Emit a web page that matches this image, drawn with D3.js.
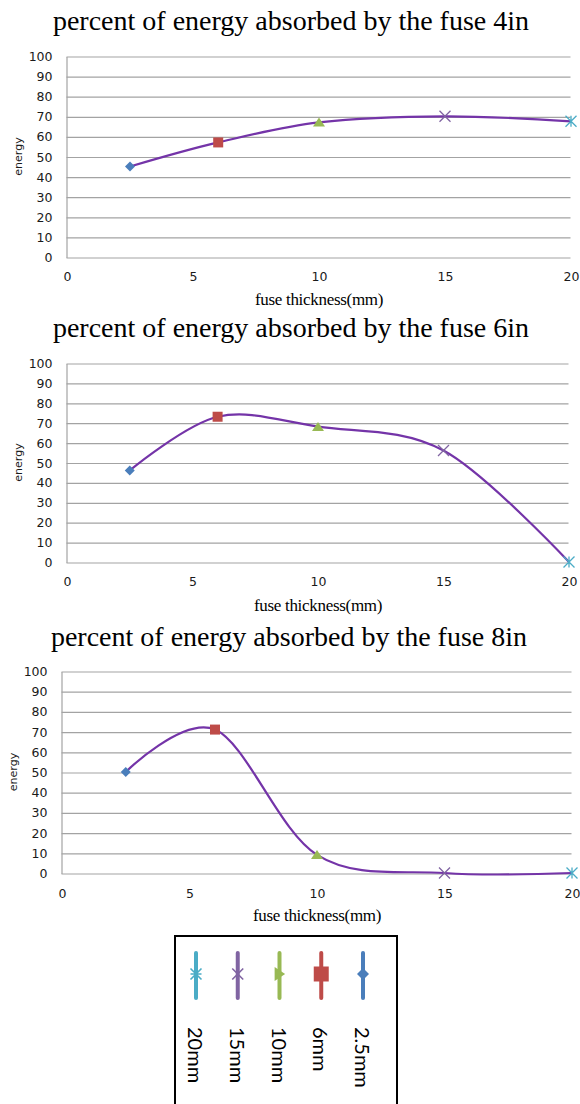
<!DOCTYPE html>
<html>
<head>
<meta charset="utf-8">
<script src="https://cdn.jsdelivr.net/npm/d3@7"></script>
<style>
  html, body { margin: 0; padding: 0; background: #fff; }
  svg { display: block; }
</style>
</head>
<body>
<svg id="chart" width="580" height="1104"></svg>
<script>
// ---------- data ----------
const thickness = [2.5, 6, 10, 15, 20];
const seriesNames = ["2.5mm", "6mm", "10mm", "15mm", "20mm"];
const energy4in = [45, 57, 67, 70, 67.5];
const energy6in = [46, 73, 68, 56, 0];
const energy8in = [50, 71, 9, 0, 0];
const titles = [
  "percent of energy absorbed by the fuse 4in",
  "percent of energy absorbed by the fuse 6in",
  "percent of energy absorbed by the fuse 8in"
];
const xTicks = [0, 5, 10, 15, 20];
const yTicks = [0, 10, 20, 30, 40, 50, 60, 70, 80, 90, 100];
const xAxisTitle = "fuse thickness(mm)";
const yAxisTitle = "energy";

// ---------- styles ----------
const markerColors = ["#4a7ebb", "#be4b48", "#98b954", "#8064a2", "#4bacc6"];
const markerTypes = ["diamond", "square", "triangle", "times", "star"];
const lineColor = "#7434a8";
const gridColor = "#a3a3a3";

const panels = [
  { data: energy4in, title: titles[0], left: 67, right: 571, top: 56, bottom: 257, titleY: 30, titleX: 291, xTickY: 277, xLabelY: 305, yLabelX: 18 },
  { data: energy6in, title: titles[1], left: 67, right: 569, top: 363, bottom: 562, titleY: 337, titleX: 291, xTickY: 582, xLabelY: 611, yLabelX: 18 },
  { data: energy8in, title: titles[2], left: 62, right: 572, top: 671, bottom: 873, titleY: 646, titleX: 289, xTickY: 894, xLabelY: 921, yLabelX: 13 }
];

const svg = d3.select("#chart");

function markerPath(type, s) {
  const h = s / 2;
  switch (type) {
    case "diamond": return `M0,${-h}L${h},0L0,${h}L${-h},0Z`;
    case "square": return `M${-h},${-h}H${h}V${h}H${-h}Z`;
    case "triangle": return `M0,${-h * 0.8}L${h},${h * 0.7}L${-h},${h * 0.7}Z`;
    case "times": return `M${-h},${-h}L${h},${h}M${-h},${h}L${h},${-h}`;
    case "star": return `M${-h},${-h}L${h},${h}M${-h},${h}L${h},${-h}M0,${-h}V${h}`;
  }
}
function isStroked(type) { return type === "times" || type === "star"; }
const chartMarkerSize = { diamond: 10, square: 10, triangle: 12, times: 11, star: 11 };
const legendMarkerSize = { diamond: 12, square: 15, triangle: 14, times: 11, star: 11 };

panels.forEach(p => {
  const g = svg.append("g");
  const x = d3.scaleLinear().domain([0, 20]).range([p.left, p.right]);
  const y = d3.scaleLinear().domain([0, 100]).range([p.bottom, p.top]);

  // title
  g.append("text")
    .attr("x", p.titleX).attr("y", p.titleY)
    .attr("text-anchor", "middle")
    .attr("font-family", "'Liberation Serif', 'Times New Roman', serif")
    .attr("font-size", 28)
    .attr("fill", "#000")
    .text(p.title);

  // y axis with gridlines
  const yAxis = g.append("g")
    .attr("transform", `translate(${p.left - 0.5},0.5)`)
    .call(d3.axisLeft(y).tickValues(yTicks).tickSize(-(p.right - p.left)).tickSizeOuter(0).tickPadding(14));
  yAxis.select(".domain").attr("stroke", gridColor).attr("stroke-width", 1.2);
  yAxis.selectAll(".tick line").attr("stroke", gridColor).attr("stroke-width", 1.2);
  yAxis.selectAll(".tick text")
    .attr("font-family", "'DejaVu Sans', Verdana, sans-serif")
    .attr("font-size", 12.5)
    .attr("fill", "#1a1a1a");
  yAxis.attr("font-family", null).attr("font-size", null);

  // x axis labels (no line)
  const xAxis = g.append("g")
    .attr("transform", `translate(0,${p.xTickY})`)
    .call(d3.axisBottom(x).tickValues(xTicks).tickSize(0).tickPadding(0));
  xAxis.select(".domain").remove();
  xAxis.selectAll(".tick text")
    .attr("y", 0).attr("dy", "0.35em")
    .attr("font-family", "'DejaVu Sans', Verdana, sans-serif")
    .attr("font-size", 12.5)
    .attr("fill", "#1a1a1a");
  xAxis.attr("font-family", null).attr("font-size", null);

  // axis titles
  g.append("text")
    .attr("x", (p.left + p.right) / 2).attr("y", p.xLabelY)
    .attr("text-anchor", "middle")
    .attr("font-family", "'Liberation Serif', 'Times New Roman', serif")
    .attr("font-size", 17)
    .attr("letter-spacing", -0.3)
    .attr("fill", "#000")
    .text(xAxisTitle);
  g.append("text")
    .attr("transform", `translate(${p.yLabelX},${(p.top + p.bottom) / 2}) rotate(-90)`)
    .attr("text-anchor", "middle")
    .attr("dy", "0.35em")
    .attr("font-family", "'DejaVu Sans', Verdana, sans-serif")
    .attr("font-size", 11)
    .attr("fill", "#1a1a1a")
    .text(yAxisTitle);

  // smoothed line
  const pts = thickness.map((t, i) => [t, p.data[i]]);
  const line = d3.line().x(d => x(d[0])).y(d => y(d[1])).curve(d3.curveCardinal.tension(0));
  g.append("path")
    .datum(pts)
    .attr("d", line)
    .attr("fill", "none")
    .attr("stroke", lineColor)
    .attr("stroke-width", 2.2);

  // markers
  g.selectAll(".mk").data(pts).enter().append("path")
    .attr("transform", d => `translate(${x(d[0])},${y(d[1])})`)
    .attr("d", (d, i) => markerPath(markerTypes[i], chartMarkerSize[markerTypes[i]]))
    .attr("fill", (d, i) => isStroked(markerTypes[i]) ? "none" : markerColors[i])
    .attr("stroke", (d, i) => isStroked(markerTypes[i]) ? markerColors[i] : "none")
    .attr("stroke-width", 1.3);
});

// ---------- legend ----------
const lg = svg.append("g");
lg.append("rect")
  .attr("x", 175).attr("y", 936)
  .attr("width", 222).attr("height", 180)
  .attr("fill", "#fff").attr("stroke", "#000").attr("stroke-width", 2);

const legendOrder = [4, 3, 2, 1, 0];
const legendX = d3.scalePoint().domain(legendOrder).range([196, 363]);
legendOrder.forEach(i => {
  const cx = legendX(i);
  lg.append("line")
    .attr("x1", cx).attr("x2", cx).attr("y1", 953).attr("y2", 998)
    .attr("stroke", markerColors[i]).attr("stroke-width", 4).attr("stroke-linecap", "round");
  const t = markerTypes[i];
  lg.append("path")
    .attr("transform", `translate(${cx},974) rotate(90)`)
    .attr("d", markerPath(t, legendMarkerSize[t]))
    .attr("fill", isStroked(t) ? "none" : markerColors[i])
    .attr("stroke", isStroked(t) ? markerColors[i] : "none")
    .attr("stroke-width", 1.6);
  lg.append("text")
    .attr("transform", `translate(${cx},1027) rotate(90)`)
    .attr("dominant-baseline", "central")
    .attr("font-family", "Lato, 'Open Sans', sans-serif")
    .attr("font-size", 20)
    .attr("fill", "#000")
    .text(seriesNames[i]);
});
</script>
</body>
</html>
